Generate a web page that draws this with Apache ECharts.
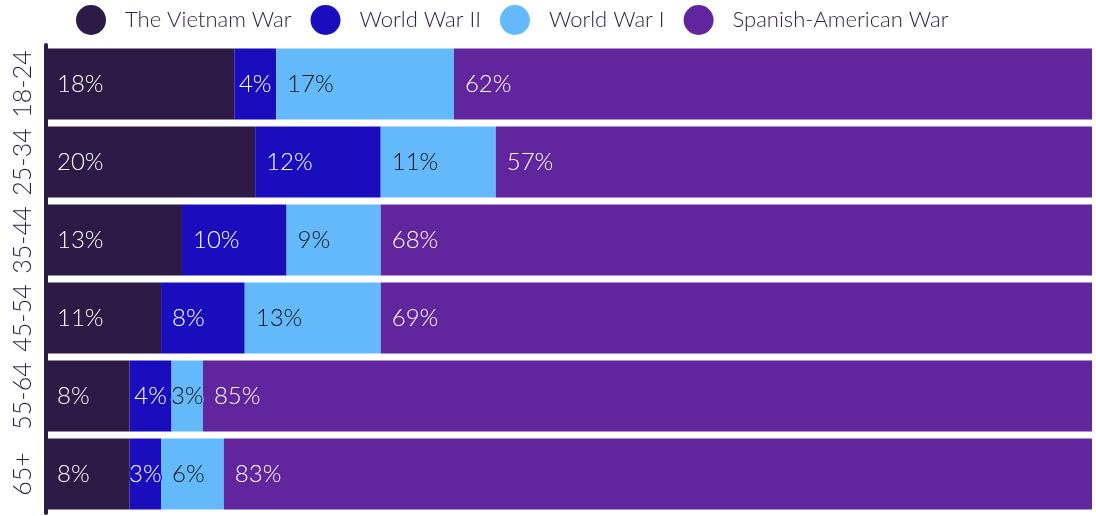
<!DOCTYPE html>
<html>
<head>
<meta charset="utf-8">
<script src="https://cdn.jsdelivr.net/npm/echarts@6/dist/echarts.min.js"></script>
<style>
  html, body { margin: 0; padding: 0; background: #fff; }
  #chart { width: 1096px; height: 516px; }
</style>
</head>
<body>
<div id="chart"></div>
<script>
const ageGroups = ['18-24', '25-34', '35-44', '45-54', '55-64', '65+']
const seriesNames = ['The Vietnam War', 'World War II', 'World War I', 'Spanish-American War']
const vietnam = [18, 20, 13, 11, 8, 8]
const ww2 = [4, 12, 10, 8, 4, 3]
const ww1 = [17, 11, 9, 13, 3, 6]
const spanish = [62, 57, 68, 69, 85, 83]

const colors = ['#2e1a47', '#1a0dbe', '#64b9fa', '#61259e']
const labelColors = ['#fff', '#fff', '#111', '#fff']
const dark = '#2e1a47'
const font = 'Lato, "Noto Sans", sans-serif'

// narrow segments get a centred label, wider ones sit at the left
function toItems(values) {
  return values.map(v => ({
    value: v,
    label: { position: v < 6 ? 'inside' : 'insideLeft' }
  }))
}

const makeSeries = (name, values, i) => ({
  name: name,
  type: 'bar',
  stack: 'total',
  barCategoryGap: '9%',
  data: toItems(values),
  itemStyle: { color: colors[i] },
  label: {
    show: true,
    distance: 11,
    formatter: '{c}%',
    color: labelColors[i],
    fontFamily: font,
    fontWeight: 300,
    fontSize: 24,
    textBorderColor: colors[i],
    textBorderWidth: 3
  },
  emphasis: { disabled: true }
})

const chart = echarts.init(document.getElementById('chart'))
chart.setOption({
  animation: false,
  legend: {
    top: 0,
    left: 71,
    icon: 'circle',
    itemWidth: 30,
    itemHeight: 30,
    itemGap: 19,
    textStyle: {
      color: dark,
      fontFamily: font,
      fontWeight: 300,
      fontSize: 22,
      padding: [0, 0, 0, 14]
    },
    data: seriesNames
  },
  grid: { left: 46, right: 4, top: 45, bottom: 3, containLabel: false },
  xAxis: {
    type: 'value',
    min: 0,
    max: 100,
    show: false
  },
  yAxis: {
    type: 'category',
    data: ageGroups,
    inverse: true,
    z: 5,
    axisLine: { show: true, lineStyle: { color: dark, width: 4 } },
    axisTick: { show: false },
    splitLine: { show: false },
    axisLabel: {
      interval: 0,
      hideOverlap: false,
      rotate: 90,
      margin: 11,
      color: dark,
      fontFamily: font,
      fontWeight: 300,
      fontSize: 25
    }
  },
  series: [
    makeSeries(seriesNames[0], vietnam, 0),
    makeSeries(seriesNames[1], ww2, 1),
    makeSeries(seriesNames[2], ww1, 2),
    makeSeries(seriesNames[3], spanish, 3)
  ]
})
</script>
</body>
</html>
